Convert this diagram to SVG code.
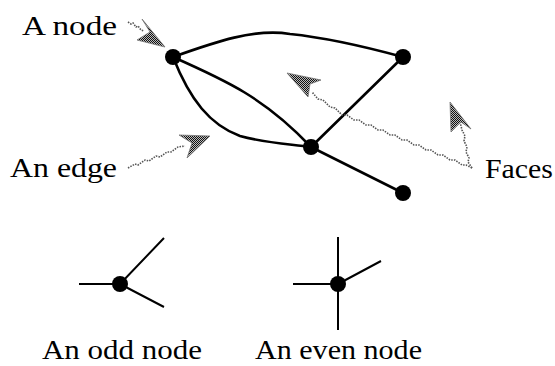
<svg xmlns="http://www.w3.org/2000/svg" width="555" height="366" viewBox="0 0 555 366">
<style>
.edge{fill:none;stroke:#000;stroke-width:2.6;stroke-linecap:round}
.thin{fill:none;stroke:#000;stroke-width:2}
.dot{fill:#000}
.shaft{fill:none;stroke:#555;stroke-width:1.6;stroke-dasharray:1.5 1.2}
.head{fill:url(#stip);stroke:#777;stroke-width:0.8}
</style>
<defs>
<pattern id="stip" width="2" height="2" patternUnits="userSpaceOnUse">
<rect x="0" y="0" width="2" height="2" fill="#bbb"/>
<rect x="0" y="0" width="1" height="1" fill="#111"/>
<rect x="1" y="1" width="1" height="1" fill="#111"/>
</pattern>
</defs>
<rect width="555" height="366" fill="#fff"/>
<g id="connectors">
<path class="edge" d="M173,57 C215,42 255,28 290,34 C330,38 370,48 403,57"/>
<path class="edge" d="M173,57 C225,80 265,98 311,147"/>
<path class="edge" d="M173,57 C190,100 210,125 240,136 C265,143 290,144 311,147"/>
<path class="edge" d="M311,147 L403,57"/>
<path class="edge" d="M311,147 L403,193"/>
<path class="thin" d="M79,284 L120,284 M120,284 L164,238 M120,284 L164,307"/>
<path class="thin" d="M293,284 L338,284 M338,237 L338,330 M338,284 L381,261"/>
</g>
<g id="node-a"><circle class="dot" cx="173" cy="57" r="8"/></g>
<g id="node-b"><circle class="dot" cx="403" cy="57" r="8"/></g>
<g id="node-c"><circle class="dot" cx="311" cy="147" r="8"/></g>
<g id="node-d"><circle class="dot" cx="403" cy="193" r="8"/></g>
<g id="odd-node"><circle class="dot" cx="120" cy="284" r="8"/></g>
<g id="even-node"><circle class="dot" cx="338" cy="284" r="8"/></g>
<g id="pointers">
<path class="shaft" d="M128,22 L131,24 L133,23 L136,27 L138,26 L141,30 L144,31"/>
<polygon class="head" points="165,47 142,19 150,32 137,40"/>
<path class="shaft" d="M128,168 L135,164 L138,165 L145,160 L149,161 L156,156 L160,157 L167,152 L171,152 L178,147 L185,146"/>
<polygon class="head" points="210,136 179,135 192,143 187,158"/>
<path class="shaft" d="M472,168 L466,165 L462,165 L455,160 L450,160 L443,155 L438,155 L431,150 L426,150 L419,145 L414,145 L407,140 L402,140 L395,135 L390,135 L383,130 L378,130 L371,125 L366,125 L359,120 L354,120 L347,115 L342,115 L335,108 L330,107 L323,100 L318,99 L312,92"/>
<polygon class="head" points="287,73 321,80 310,84 308,97"/>
<path class="shaft" d="M472,168 L468,162 L469,158 L466,152 L467,147 L464,141 L465,136 L462,130 L460,122"/>
<polygon class="head" points="450,102 471,129 461,122 451,132"/>
</g>
<g id="labels" font-family="Liberation Serif, DejaVu Serif, serif" font-size="28" fill="#000">
<text x="22" y="35" textLength="95" lengthAdjust="spacingAndGlyphs">A node</text>
<text x="10" y="177" textLength="107" lengthAdjust="spacingAndGlyphs">An edge</text>
<text x="485" y="178" textLength="68" lengthAdjust="spacingAndGlyphs">Faces</text>
<text x="42" y="359" textLength="160" lengthAdjust="spacingAndGlyphs">An odd node</text>
<text x="255" y="359" textLength="167" lengthAdjust="spacingAndGlyphs">An even node</text>
</g>
</svg>
